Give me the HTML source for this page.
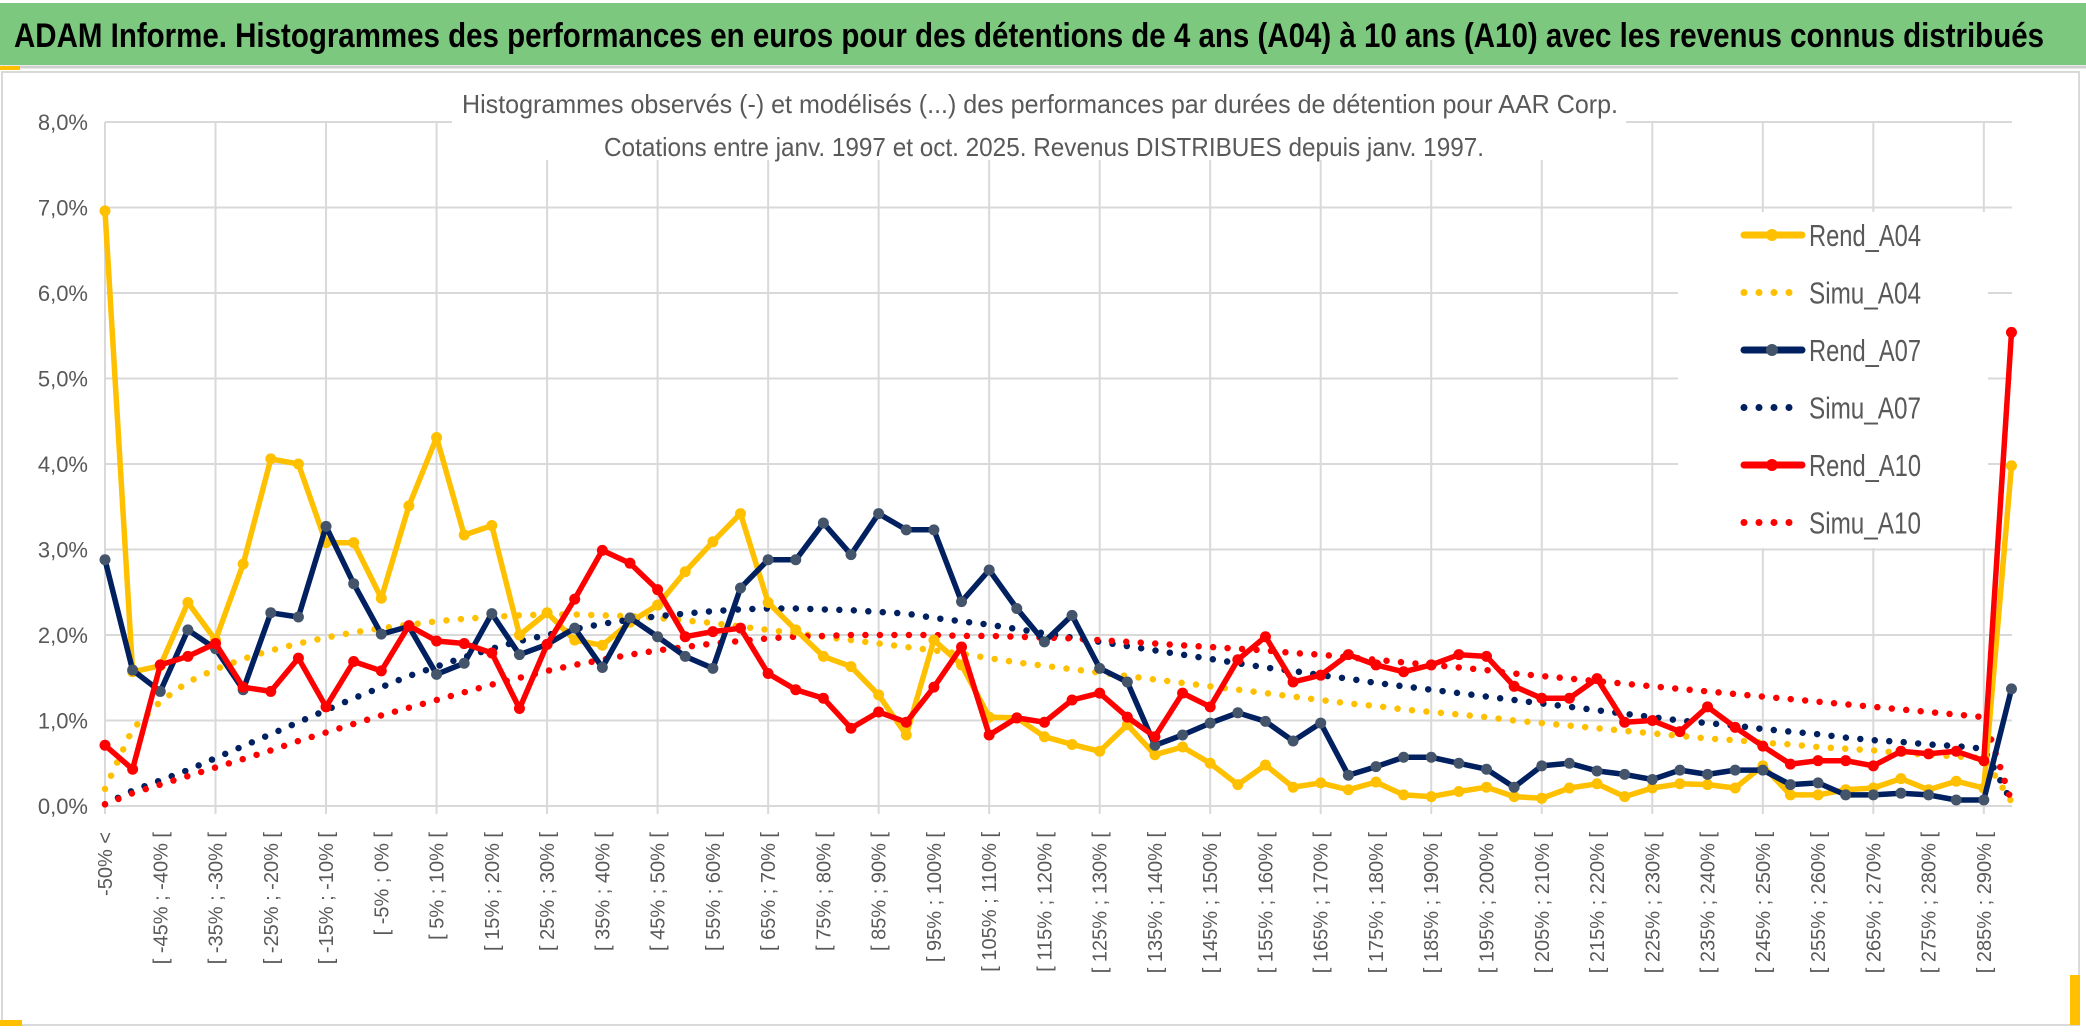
<!DOCTYPE html>
<html><head><meta charset="utf-8"><style>
html,body{margin:0;padding:0;background:#fff;}
svg{display:block;font-family:"Liberation Sans",sans-serif;}
</style></head><body>
<svg id="chart" width="2086" height="1033" viewBox="0 0 2086 1033" xmlns="http://www.w3.org/2000/svg">
<rect x="0" y="0" width="2086" height="1033" fill="#fff"/>
<rect x="0" y="3" width="2086" height="62" fill="#7dc87f"/>
<line x1="0" y1="67" x2="2086" y2="67" stroke="#d0d0d0" stroke-width="3"/>
<rect x="0" y="66" width="20" height="4" fill="#ffc000"/>
<text x="14" y="47" font-size="34" font-weight="bold" fill="#000" textLength="2030" lengthAdjust="spacingAndGlyphs">ADAM Informe. Histogrammes des performances en euros pour des détentions de 4 ans (A04) à 10 ans (A10) avec les revenus connus distribués</text>
<rect x="2" y="72" width="2077" height="953" fill="none" stroke="#d9d9d9" stroke-width="2"/>
<rect x="0" y="1020" width="22" height="6" fill="#ffc000"/>
<rect x="2070" y="975" width="10" height="50" fill="#ffc000"/>
<g id="grid"></g>
<rect x="452" y="82" width="1174" height="78" fill="#fff"/>
<text x="1040" y="113" font-size="26" fill="#595959" text-anchor="middle" textLength="1156" lengthAdjust="spacingAndGlyphs">Histogrammes observés (-) et modélisés (...) des performances par durées de détention pour AAR Corp.</text>
<text x="1044" y="156" font-size="26" fill="#595959" text-anchor="middle" textLength="880" lengthAdjust="spacingAndGlyphs">Cotations entre janv. 1997 et oct. 2025. Revenus DISTRIBUES depuis janv. 1997.</text>
<g id="yaxis"></g>
<g id="xaxis"></g>
<g id="series"></g>
<g id="legend"></g>
</svg>
<script>
const categories = ["-50% <","[ -50% ; -45% [","[ -45% ; -40% [","[ -40% ; -35% [","[ -35% ; -30% [","[ -30% ; -25% [","[ -25% ; -20% [","[ -20% ; -15% [","[ -15% ; -10% [","[ -10% ; -5% [","[ -5% ; 0% [","[ 0% ; 5% [","[ 5% ; 10% [","[ 10% ; 15% [","[ 15% ; 20% [","[ 20% ; 25% [","[ 25% ; 30% [","[ 30% ; 35% [","[ 35% ; 40% [","[ 40% ; 45% [","[ 45% ; 50% [","[ 50% ; 55% [","[ 55% ; 60% [","[ 60% ; 65% [","[ 65% ; 70% [","[ 70% ; 75% [","[ 75% ; 80% [","[ 80% ; 85% [","[ 85% ; 90% [","[ 90% ; 95% [","[ 95% ; 100% [","[ 100% ; 105% [","[ 105% ; 110% [","[ 110% ; 115% [","[ 115% ; 120% [","[ 120% ; 125% [","[ 125% ; 130% [","[ 130% ; 135% [","[ 135% ; 140% [","[ 140% ; 145% [","[ 145% ; 150% [","[ 150% ; 155% [","[ 155% ; 160% [","[ 160% ; 165% [","[ 165% ; 170% [","[ 170% ; 175% [","[ 175% ; 180% [","[ 180% ; 185% [","[ 185% ; 190% [","[ 190% ; 195% [","[ 195% ; 200% [","[ 200% ; 205% [","[ 205% ; 210% [","[ 210% ; 215% [","[ 215% ; 220% [","[ 220% ; 225% [","[ 225% ; 230% [","[ 230% ; 235% [","[ 235% ; 240% [","[ 240% ; 245% [","[ 245% ; 250% [","[ 250% ; 255% [","[ 255% ; 260% [","[ 260% ; 265% [","[ 265% ; 270% [","[ 270% ; 275% [","[ 275% ; 280% [","[ 280% ; 285% [","[ 285% ; 290% [","290% >"];
const rendA04 = [6.96,1.57,1.64,2.38,1.94,2.83,4.06,4.0,3.08,3.08,2.43,3.51,4.31,3.17,3.28,2.0,2.26,1.94,1.88,2.15,2.35,2.74,3.09,3.42,2.38,2.06,1.75,1.63,1.3,0.83,1.94,1.65,1.04,1.03,0.81,0.72,0.64,0.95,0.6,0.69,0.5,0.25,0.48,0.22,0.27,0.19,0.28,0.13,0.11,0.17,0.22,0.11,0.09,0.21,0.26,0.11,0.21,0.26,0.25,0.21,0.47,0.13,0.13,0.19,0.21,0.32,0.19,0.29,0.21,3.98];
const simuA04 = [0.2,0.9,1.22,1.45,1.6,1.72,1.82,1.9,1.97,2.03,2.08,2.12,2.16,2.19,2.21,2.23,2.24,2.24,2.23,2.22,2.2,2.17,2.14,2.1,2.06,2.02,1.98,1.94,1.9,1.86,1.82,1.78,1.73,1.68,1.64,1.6,1.56,1.52,1.48,1.44,1.4,1.36,1.32,1.28,1.24,1.2,1.17,1.13,1.1,1.07,1.04,1.0,0.97,0.94,0.91,0.88,0.85,0.82,0.79,0.77,0.74,0.72,0.69,0.67,0.65,0.62,0.6,0.58,0.56,0.05];
const rendA07 = [2.88,1.59,1.34,2.06,1.84,1.36,2.26,2.21,3.27,2.6,2.01,2.1,1.54,1.67,2.25,1.77,1.89,2.08,1.62,2.2,1.98,1.75,1.61,2.55,2.88,2.88,3.31,2.94,3.42,3.23,3.23,2.39,2.76,2.31,1.92,2.23,1.61,1.45,0.71,0.83,0.97,1.09,0.99,0.76,0.97,0.36,0.46,0.57,0.57,0.5,0.43,0.22,0.47,0.5,0.41,0.37,0.31,0.42,0.37,0.42,0.42,0.25,0.27,0.13,0.13,0.15,0.13,0.07,0.07,1.37];
const simuA07 = [0.02,0.18,0.3,0.42,0.56,0.7,0.84,0.98,1.12,1.26,1.39,1.52,1.63,1.74,1.84,1.93,2.0,2.07,2.13,2.18,2.22,2.25,2.28,2.3,2.31,2.31,2.3,2.29,2.27,2.25,2.2,2.16,2.12,2.07,2.02,1.97,1.92,1.87,1.82,1.77,1.72,1.67,1.62,1.58,1.53,1.49,1.44,1.4,1.36,1.32,1.28,1.24,1.2,1.16,1.12,1.08,1.04,1.0,0.97,0.94,0.9,0.87,0.84,0.8,0.77,0.75,0.72,0.7,0.67,0.05];
const rendA10 = [0.71,0.43,1.65,1.75,1.9,1.39,1.34,1.73,1.16,1.69,1.58,2.11,1.93,1.9,1.79,1.14,1.89,2.42,2.99,2.84,2.53,1.98,2.04,2.08,1.55,1.36,1.26,0.91,1.1,0.98,1.39,1.86,0.83,1.03,0.98,1.24,1.32,1.04,0.81,1.32,1.16,1.71,1.98,1.45,1.53,1.77,1.65,1.57,1.65,1.77,1.75,1.4,1.26,1.26,1.49,0.98,1.0,0.87,1.16,0.92,0.7,0.49,0.53,0.53,0.47,0.64,0.61,0.64,0.53,5.54];
const simuA10 = [0.02,0.15,0.25,0.35,0.45,0.55,0.65,0.76,0.86,0.96,1.06,1.15,1.24,1.33,1.42,1.5,1.58,1.65,1.71,1.77,1.82,1.86,1.9,1.93,1.96,1.98,1.99,2.0,2.0,2.0,2.0,1.99,1.99,1.98,1.97,1.96,1.94,1.92,1.9,1.88,1.86,1.84,1.82,1.79,1.77,1.74,1.71,1.68,1.65,1.62,1.59,1.55,1.52,1.49,1.46,1.43,1.4,1.37,1.34,1.31,1.28,1.25,1.22,1.19,1.16,1.13,1.1,1.07,1.04,0.05];
const yTicks = [0,1,2,3,4,5,6,7,8];
const yTickLabels = ["0,0%","1,0%","2,0%","3,0%","4,0%","5,0%","6,0%","7,0%","8,0%"];

const NS = "http://www.w3.org/2000/svg";
const X0 = 105, XSTEP = 27.63, Y0 = 806, YUNIT = 85.5, XR = 2012;
function xPos(i){ return X0 + XSTEP * i; }
function yPos(v){ return Y0 - YUNIT * v; }
function mk(tag, attrs, parent){ const e = document.createElementNS(NS, tag); for (const k in attrs) e.setAttribute(k, attrs[k]); parent.appendChild(e); return e; }

const grid = document.getElementById('grid');
yTicks.forEach(function(t){
  const l = mk('line', {x1: X0, x2: XR, y1: yPos(t), y2: yPos(t), stroke: '#d9d9d9', 'stroke-width': 2}, grid);
  
  
});
for (let i = 0; i < categories.length; i += 4) {
  const l = mk('line', {x1: xPos(i), x2: xPos(i), y1: yPos(8), y2: Y0 + 8, stroke: '#d9d9d9', 'stroke-width': 2}, grid);
  
  
}

const yaxis = document.getElementById('yaxis');
yTicks.forEach(function(t, k){
  const tx = mk('text', {x: 88, y: yPos(t) + 8, 'font-size': 22, fill: '#595959', 'text-anchor': 'end'}, yaxis);
  
  
  tx.textContent = yTickLabels[k];
});

const xaxis = document.getElementById('xaxis');
categories.forEach(function(c, i){
  if (i % 2 !== 0) return;
  const x = xPos(i) + 7, y = 832;
  const tx = mk('text', {x: x, y: y, 'font-size': 20, fill: '#595959', 'text-anchor': 'end', transform: 'rotate(-90 ' + x + ' ' + y + ')'}, xaxis);
  
  
  tx.textContent = c;
});

const series = document.getElementById('series');
function pts(arr){ return arr.map(function(v, i){ return xPos(i).toFixed(1) + ',' + yPos(v).toFixed(1); }).join(' '); }
function dotted(arr, color, name){
  const p = mk('polyline', {points: pts(arr), fill: 'none', stroke: color, 'stroke-width': 6.5, 'stroke-linecap': 'round', 'stroke-dasharray': '0 14.5'}, series);
  
  
}
function solid(arr, color, markerFill, name){
  const g = mk('g', {}, series);
  
  
  mk('polyline', {points: pts(arr), fill: 'none', stroke: color, 'stroke-width': 5.5, 'stroke-linejoin': 'round'}, g);
  arr.forEach(function(v, i){
    const c = mk('circle', {cx: xPos(i), cy: yPos(v), r: 5.5, fill: markerFill}, g);
    
    
  });
}
dotted(simuA04, '#ffc000', 'simu-a04-line');
dotted(simuA07, '#002060', 'simu-a07-line');
dotted(simuA10, '#ff0000', 'simu-a10-line');
solid(rendA04, '#ffc000', '#ffc000', 'rend-a04-line');
solid(rendA07, '#002060', '#44546a', 'rend-a07-line');
solid(rendA10, '#ff0000', '#ff0000', 'rend-a10-line');

const legend = document.getElementById('legend');
const lb = mk('rect', {x: 1678, y: 212, width: 310, height: 336, fill: '#fff'}, legend);


const legItems = [
  {label: 'Rend_A04', color: '#ffc000', mfill: '#ffc000', dot: false},
  {label: 'Simu_A04', color: '#ffc000', dot: true},
  {label: 'Rend_A07', color: '#002060', mfill: '#44546a', dot: false},
  {label: 'Simu_A07', color: '#002060', dot: true},
  {label: 'Rend_A10', color: '#ff0000', mfill: '#ff0000', dot: false},
  {label: 'Simu_A10', color: '#ff0000', dot: true}
];
legItems.forEach(function(it, k){
  const y = 235 + k * 57.5;
  const g = mk('g', {}, legend);
  
  
  if (it.dot) {
    mk('line', {x1: 1744, x2: 1792, y1: y, y2: y, stroke: it.color, 'stroke-width': 7, 'stroke-linecap': 'round', 'stroke-dasharray': '0 15'}, g);
  } else {
    mk('line', {x1: 1744, x2: 1802, y1: y, y2: y, stroke: it.color, 'stroke-width': 7, 'stroke-linecap': 'round'}, g);
    mk('circle', {cx: 1772, cy: y, r: 6, fill: it.mfill}, g);
  }
  const t = mk('text', {x: 1809, y: y + 11, 'font-size': 31, fill: '#595959', textLength: 112, lengthAdjust: 'spacingAndGlyphs'}, g);
  t.textContent = it.label;
});
</script>
</body></html>
